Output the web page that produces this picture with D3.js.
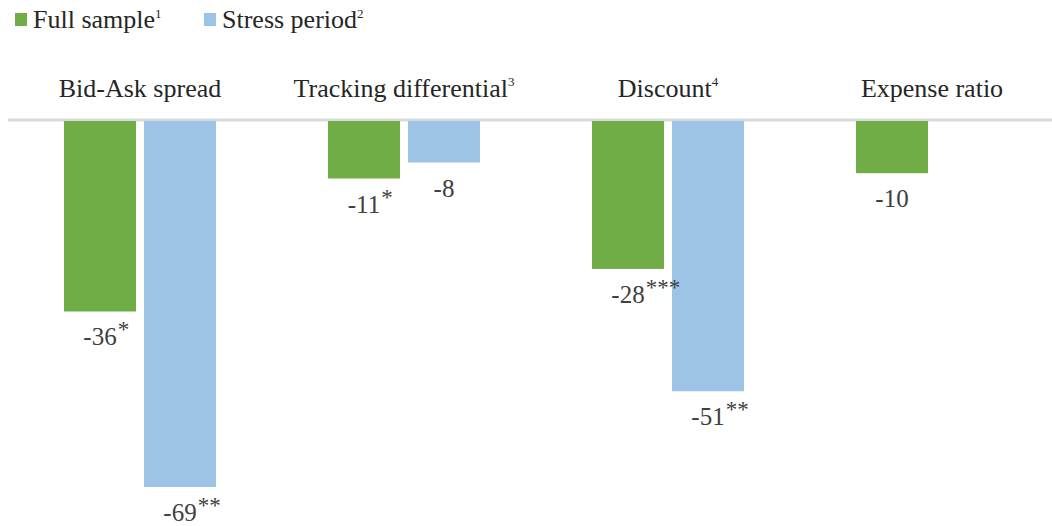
<!DOCTYPE html>
<meta charset="utf-8">
<head>
  <style>
    body { margin: 0; background: #fff; }
  </style>
</head>
<script src="https://d3js.org/d3.v7.min.js"></script>
<div id="my_dataviz"></div>
<script>

// categories and series
var categories = ["Bid-Ask spread", "Tracking differential", "Discount", "Expense ratio"];
var catNotes = ["", "3", "4", ""];
var series = ["Full sample", "Stress period"];
var seriesNotes = ["1", "2"];
var colors = ["#70ad47", "#9dc3e6"];

// values per series (null = no bar)
var fullSample = [-36, -11, -28, -10];
var stressPeriod = [-69, -8, -51, null];
var fullStars = ["*", "*", "***", ""];
var stressStars = ["**", "", "**", ""];

var width = 1052, height = 526;
var font = "'Liberation Serif', 'Times New Roman', Times, serif";

var svg = d3.select("#my_dataviz")
  .append("svg")
    .attr("width", width)
    .attr("height", height)
    .style("font-family", font);

// scales
var x0 = d3.scaleBand()
  .domain(categories)
  .range([8, 1064]);

var x1 = d3.scaleBand()
  .domain(series)
  .range([56, 208])
  .paddingInner(0.1);

var y = d3.scaleLinear()
  .domain([0, -69])
  .range([120, 487]);

// zero line
svg.append("line")
  .attr("x1", 8).attr("x2", width)
  .attr("y1", y(0)).attr("y2", y(0))
  .attr("stroke", "#d9d9d9")
  .attr("stroke-width", 3);

// build flat data
var data = [];
categories.forEach(function(c, i) {
  data.push({cat: c, s: series[0], v: fullSample[i], stars: fullStars[i], col: colors[0]});
  if (stressPeriod[i] !== null)
    data.push({cat: c, s: series[1], v: stressPeriod[i], stars: stressStars[i], col: colors[1]});
});

// bars
svg.selectAll("rect.bar")
  .data(data)
  .enter()
  .append("rect")
    .attr("class", "bar")
    .attr("x", function(d) { return x0(d.cat) + x1(d.s); })
    .attr("y", y(0) + 1)
    .attr("width", x1.bandwidth())
    .attr("height", function(d) { return y(d.v) - y(0) - 1; })
    .attr("fill", function(d) { return d.col; });

// value labels: number centred on the bar, stars raised after it
var lab = svg.selectAll("g.lab")
  .data(data)
  .enter()
  .append("g")
    .attr("class", "lab")
    .attr("transform", function(d) {
      return "translate(" + (x0(d.cat) + x1(d.s) + x1.bandwidth() / 2) + "," + (y(d.v) + 34) + ")";
    });

lab.append("text")
  .attr("text-anchor", "middle")
  .attr("font-size", 25)
  .attr("fill", "#404040")
  .text(function(d) { return d.v; })
  .each(function(d) {
    var w = this.getComputedTextLength();
    d3.select(this.parentNode).append("text")
      .attr("x", w / 2 + 1)
      .attr("y", -8)
      .attr("font-size", 23)
      .attr("fill", "#404040")
      .text(d.stars);
  });

// category labels
var cl = svg.selectAll("text.cat")
  .data(categories)
  .enter()
  .append("text")
    .attr("class", "cat")
    .attr("x", function(d) { return x0(d) + 132; })
    .attr("y", 97)
    .attr("text-anchor", "middle")
    .attr("font-size", 26)
    .attr("fill", "#262626");
cl.append("tspan").text(function(d) { return d; });
cl.append("tspan")
  .attr("font-size", 13)
  .attr("dy", -11)
  .text(function(d, i) { return catNotes[i]; });

// legend
var legX = [15, 204];
var leg = svg.selectAll("g.leg")
  .data(series)
  .enter()
  .append("g")
    .attr("class", "leg")
    .attr("transform", function(d, i) { return "translate(" + legX[i] + ",0)"; });
leg.append("rect")
  .attr("x", 0).attr("y", 13)
  .attr("width", 12).attr("height", 13)
  .attr("fill", function(d, i) { return colors[i]; });
var lt = leg.append("text")
  .attr("x", 18).attr("y", 28)
  .attr("font-size", 26)
  .attr("fill", "#262626");
lt.append("tspan").text(function(d) { return d; });
lt.append("tspan")
  .attr("font-size", 13)
  .attr("dy", -10)
  .text(function(d, i) { return seriesNotes[i]; });

</script>
